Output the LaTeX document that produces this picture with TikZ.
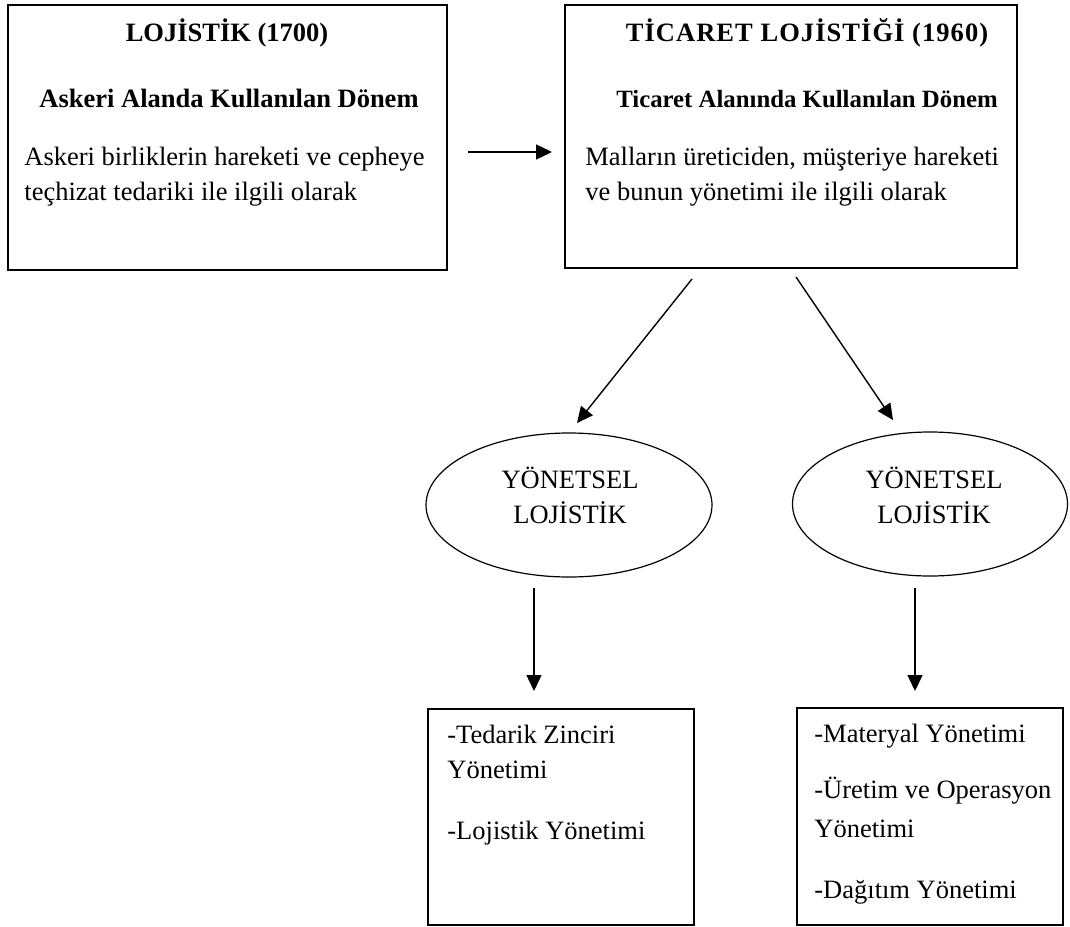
\documentclass[tikz,border=0pt]{standalone}
\usepackage{fontspec}
\setmainfont{Liberation Serif}
\usetikzlibrary{arrows.meta,shapes.geometric,fit}
\begin{document}
\begin{tikzpicture}[x=0.5pt,y=-0.5pt,
  box/.style={draw,line width=0.75pt,inner sep=0pt},
  txt/.style={inner sep=0pt,anchor=base west,font=\fontsize{13.25}{16}\selectfont},
  ctxt/.style={inner sep=0pt,anchor=base,font=\fontsize{13.25}{16}\selectfont},
  btxt/.style={inner sep=0pt,anchor=base,font=\fontsize{13.25}{16}\selectfont\bfseries},
  oval/.style={draw,ellipse,line width=0.6pt,inner sep=0pt,minimum height=72pt},
  arr/.style={-{Triangle[length=8pt,width=7.5pt]},line width=0.7pt}]
\useasboundingbox (0,0) rectangle (1070,926);

% top boxes
\node[box,fit={(8,5) (447,270)}] (b1) {};
\node[btxt] (b1t) at (227,41) {LOJİSTİK (1700)};
\node[btxt] (b1s) at (229,107) {Askeri Alanda Kullanılan Dönem};
\node[txt] (b1a) at (24,165) {Askeri birliklerin hareketi ve cepheye};
\node[txt] (b1b) at (24,200) {teçhizat tedariki ile ilgili olarak};

\node[box,fit={(565,5) (1017,268)}] (b2) {};
\node[btxt] (b2t) at (807,41) {\addfontfeatures{LetterSpace=4}TİCARET LOJİSTİĞİ (1960)};
\node[btxt,font=\fontsize{12.4}{16}\selectfont\bfseries] (b2s) at (807,107) {Ticaret Alanında Kullanılan Dönem};
\node[txt] (b2a) at (585,165) {Malların üreticiden, müşteriye hareketi};
\node[txt] (b2b) at (585,200) {ve bunun yönetimi ile ilgili olarak};

% ellipses
\node[oval,minimum width=143pt] (e1) at (569,505) {};
\node[ctxt] (e1a) at (570,488) {YÖNETSEL};
\node[ctxt] (e1b) at (570,523) {LOJİSTİK};
\node[oval,minimum width=137.5pt] (e2) at (930,504) {};
\node[ctxt] (e2a) at (934,488) {YÖNETSEL};
\node[ctxt] (e2b) at (934,523) {LOJİSTİK};

% bottom boxes
\node[box,fit={(428,709) (694,925)}] (b3) {};
\node[txt] (b3a) at (447,743) {-Tedarik Zinciri};
\node[txt] (b3b) at (447,778) {Yönetimi};
\node[txt] (b3c) at (447,839) {-Lojistik Yönetimi};

\node[box,fit={(797,708) (1063,925)}] (b4) {};
\node[txt] (b4a) at (814,742) {-Materyal Yönetimi};
\node[txt] (b4b) at (814,798) {-Üretim ve Operasyon};
\node[txt] (b4c) at (814,837) {Yönetimi};
\node[txt] (b4d) at (814,898) {-Dağıtım Yönetimi};

% connectors
\coordinate (h1) at (468,152);
\coordinate (h2) at (552,152);
\coordinate (d1s) at (692,279);
\coordinate (d1e) at (577,423);
\coordinate (d2s) at (796,277);
\coordinate (d2e) at (893,420);
\coordinate (v1s) at (534,588);
\coordinate (v1e) at (534,691);
\coordinate (v2s) at (915,588);
\coordinate (v2e) at (915,691);

\draw[arr] (h1) -- (h2);
\draw[arr] (d1s) -- (d1e);
\draw[arr] (d2s) -- (d2e);
\draw[arr] (v1s) -- (v1e);
\draw[arr] (v2s) -- (v2e);
\end{tikzpicture}
\end{document}
